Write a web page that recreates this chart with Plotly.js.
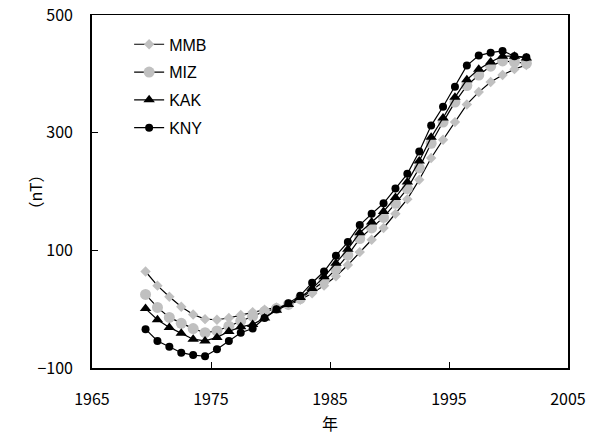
<!DOCTYPE html>
<html>
<head>
<meta charset="utf-8">
<script src="https://cdn.plot.ly/plotly-3.0.1.min.js"></script>
<style>html,body{margin:0;padding:0;background:#fff;}#chart{width:598px;height:437px;}</style>
</head>
<body>
<div id="chart"></div>
<script>
const years = [1969.5,1970.5,1971.5,1972.5,1973.5,1974.5,1975.5,1976.5,1977.5,1978.5,1979.5,1980.5,1981.5,1982.5,1983.5,1984.5,1985.5,1986.5,1987.5,1988.5,1989.5,1990.5,1991.5,1992.5,1993.5,1994.5,1995.5,1996.5,1997.5,1998.5,1999.5,2000.5,2001.5];
const seriesNames = ["MMB","MIZ","KAK","KNY"];
const MMB = [64,40,21,4,-9,-17,-18,-15,-10,-5,-1,3,7,16,27,40,56,75,97,118,138,162,187,220,257,288,318,348,369,386,398,408,415];
const MIZ = [25,3,-14,-24,-33,-40,-37,-29,-20,-12,-4,1,8,18,32,48,68,92,120,138,156,180,205,240,282,318,352,380,398,413,422,420,418];
const KAK = [1,-18,-31,-41,-51,-54,-48,-38,-30,-26,-15,-2,8,20,35,55,78,102,130,148,166,190,216,252,292,325,360,390,408,420,430,430,427];
const KNY = [-34,-54,-64,-74,-78,-80,-68,-54,-40,-33,-15,0,10,23,45,64,91,114,143,162,180,205,230,268,312,344,378,414,431,436,439,430,428];
const xTicks = [1965,1975,1985,1995,2005];
const yTicks = [-100,100,300,500];
const xTitle = '年';
const yTitle = '（nT）';

const styles = {
  MMB: {symbol:'diamond', size:8, color:'#c0c0c0'},
  MIZ: {symbol:'circle', size:11, color:'#c0c0c0'},
  KAK: {symbol:'triangle-up', size:10, color:'#000000'},
  KNY: {symbol:'circle', size:8, color:'#000000'}
};
const vals = {MMB, MIZ, KAK, KNY};
const traces = seriesNames.map(n => ({
  x: years, y: vals[n], name: n, type: 'scatter', mode: 'lines+markers',
  legendgroup: n,
  line: {color: '#000000', width: 1.2},
  marker: {symbol: styles[n].symbol, size: styles[n].size, color: styles[n].color, line: {width: 0}}
}));

const tickFont = {family: '"Noto Sans CJK JP", "DejaVu Sans", sans-serif', size: 16, color: '#000'};
const layout = {
  width: 598, height: 437,
  margin: {l: 92, r: 30, t: 15, b: 69},
  paper_bgcolor: '#fff', plot_bgcolor: '#fff',
  showlegend: true,
  legend: {x: 0.078, y: 0.965, xanchor: 'left', yanchor: 'top', bgcolor: 'rgba(0,0,0,0)',
    font: {family: '"Liberation Sans", Arial, sans-serif', size: 16, color: '#000'},
    traceorder: 'grouped', tracegroupgap: 4, itemwidth: 30},
  xaxis: {range: [1965, 2005], tickvals: xTicks, ticktext: xTicks.map(String),
    ticks: 'inside', ticklen: 6, tickcolor: '#000', showline: true, linecolor: '#000', linewidth: 1.5,
    mirror: true, showgrid: false, zeroline: false, tickfont: tickFont, ticklabelstandoff: 16,
    title: {text: xTitle, font: tickFont, standoff: 10}},
  yaxis: {range: [-100, 500], tickvals: yTicks, ticktext: yTicks.map(v => v < 0 ? '−' + Math.abs(v) : String(v)),
    ticks: 'inside', ticklen: 6, tickcolor: '#000', showline: true, linecolor: '#000', linewidth: 1.8,
    mirror: true, showgrid: false, zeroline: false, tickfont: tickFont, ticklabelstandoff: 14},
  annotations: [{text: yTitle, xref: 'paper', yref: 'paper', x: -0.12, y: 0.5,
    xanchor: 'center', yanchor: 'middle', textangle: -90, showarrow: false, font: tickFont}]
};
Plotly.newPlot('chart', traces, layout, {staticPlot: true});
</script>
</body>
</html>
